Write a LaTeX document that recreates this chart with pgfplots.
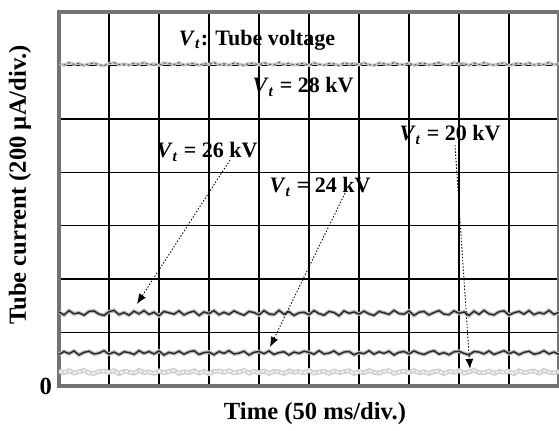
\documentclass[border=0pt]{standalone}
\usepackage{fontspec}
\setmainfont{Liberation Serif}
\usepackage{pgfplots}
\pgfplotsset{compat=1.18}
\usepackage{pgfplotstable}
\usetikzlibrary{arrows.meta}

% x in ms, traces in uA (a: 28 kV, b: 26 kV, c: 24 kV, d: 20 kV)
\pgfplotstableread{
x a b c d
0 1207 277 118 55
5 1201 266 129 50
10 1210 282 121 57
15 1204 270 131 48
20 1208 274 116 53
25 1200 265 126 58
30 1206 279 130 49
35 1209 281 120 47
40 1202 269 123 54
45 1199 264 132 56
50 1207 278 119 51
55 1210 283 127 57
60 1203 267 117 46
65 1205 275 128 55
70 1201 265 125 52
75 1208 280 118 48
80 1204 270 132 58
85 1211 282 122 50
90 1202 268 129 53
95 1206 276 120 47
100 1200 263 131 56
105 1209 279 116 49
110 1207 274 126 54
115 1203 269 121 58
120 1210 281 130 47
125 1201 266 119 53
130 1205 275 128 50
135 1208 280 132 57
140 1200 264 118 48
145 1207 277 125 55
150 1204 271 127 46
155 1211 282 117 54
160 1202 267 129 56
165 1206 276 122 51
170 1201 268 132 57
175 1209 281 120 49
180 1205 272 123 52
185 1200 265 130 58
190 1208 279 116 48
195 1207 275 126 54
200 1202 266 129 50
205 1210 282 121 56
210 1204 270 131 47
215 1202 267 118 55
220 1211 283 125 53
225 1203 269 128 46
230 1208 278 116 57
235 1201 264 127 51
240 1206 274 122 54
245 1207 276 130 49
250 1200 267 126 58
255 1210 282 119 48
260 1204 271 132 52
265 1201 265 120 55
270 1208 279 123 47
275 1206 275 131 56
280 1199 263 118 50
285 1209 281 127 53
290 1205 272 129 57
295 1207 277 117 46
300 1202 269 125 54
305 1210 280 121 49
310 1203 270 132 58
315 1200 264 119 51
320 1209 279 128 48
325 1206 274 122 55
330 1202 268 130 57
335 1211 283 116 47
340 1204 271 126 52
345 1203 269 129 56
350 1209 281 120 50
355 1200 264 131 58
360 1207 276 123 49
365 1208 279 118 53
370 1201 266 127 47
375 1206 275 132 54
380 1210 282 119 56
385 1203 269 125 46
390 1202 267 117 55
395 1211 281 128 51
400 1205 272 130 57
405 1207 277 122 48
410 1200 264 116 53
415 1209 280 129 58
420 1202 268 127 50
425 1210 283 120 49
430 1204 270 131 56
435 1201 266 118 47
440 1207 278 125 54
445 1209 281 132 52
450 1200 265 121 55
455 1205 274 128 46
460 1208 279 117 57
465 1203 269 126 50
470 1210 282 130 53
475 1201 267 119 56
480 1206 275 123 48
485 1203 270 132 58
490 1211 283 120 51
495 1202 268 127 49
500 1207 276 118 54
}\traces

\newcommand{\Vt}{\textit{V}\textsubscript{\textit{t}}}

\begin{document}
\begin{tikzpicture}
\useasboundingbox (-29.5pt,-22.5pt) rectangle (250pt,193pt);
\begin{axis}[
  at={(0,0)}, anchor=south west,
  scale only axis, width=250pt, height=187pt,
  xmin=0, xmax=500, ymin=0, ymax=1400,
  xtick={0,50,...,500}, ytick={0,200,...,1400},
  xticklabels={{},{},{},{},{},{},{},{},{},{},{}},
  yticklabels={\textbf{0},{},{},{},{},{},{},{}},
  major tick length=0,
  grid=major, grid style={black, line width=0.7pt},
  axis line style={black!55, line width=1.6pt},
  ticklabel style={font=\bfseries\fontsize{12.3}{14}\selectfont},
  /pgf/number format/assume math mode=true,
  label style={font=\bfseries\fontsize{12.3}{14}\selectfont},
  xlabel={Time (50 ms/div.)},
  ylabel={Tube current (200 µA/div.)},
  xlabel style={at={(axis description cs:0.512,-0.075)}, anchor=center},
  ylabel style={at={(axis description cs:-0.078,0.537)}, anchor=center},
]
% 28 kV
\addplot[gray!45, line width=1.5pt] table[x=x, y=a] {\traces};
\addplot[black!65, line width=0.5pt, dash pattern=on 1pt off 1.4pt] table[x=x, y=a] {\traces};
% 26 kV
\addplot[gray!55, line width=1.9pt] table[x=x, y=b] {\traces};
\addplot[black!85, line width=0.7pt] table[x=x, y=b] {\traces};
% 24 kV
\addplot[gray!55, line width=1.9pt] table[x=x, y=c] {\traces};
\addplot[black!85, line width=0.7pt] table[x=x, y=c] {\traces};
% 20 kV
\addplot[gray!35, line width=2.4pt] table[x=x, y=d] {\traces};
\addplot[white, line width=0.6pt, dash pattern=on 1.5pt off 1pt] table[x=x, y=d] {\traces};

\begin{scope}[every node/.style={font=\bfseries\fontsize{11}{13}\selectfont, inner sep=0pt}]
\node at (axis cs:198,1295) {\Vt: Tube voltage};
\node at (axis cs:244,1119) {\Vt\ = 28 kV};
\node at (axis cs:148,876) {\Vt\ = 26 kV};
\node at (axis cs:261,745) {\Vt\ = 24 kV};
\node at (axis cs:391,940) {\Vt\ = 20 kV};
\end{scope}
\begin{scope}[line width=0.45pt, dash pattern=on 0.7pt off 0.9pt, -{Latex[length=5pt,width=4pt]}]
\draw (axis cs:171,846) -- (axis cs:78,307);
\draw (axis cs:286,722) -- (axis cs:211,146);
\draw (axis cs:396,902) -- (axis cs:411,64);
\end{scope}
\end{axis}
\end{tikzpicture}
\end{document}
